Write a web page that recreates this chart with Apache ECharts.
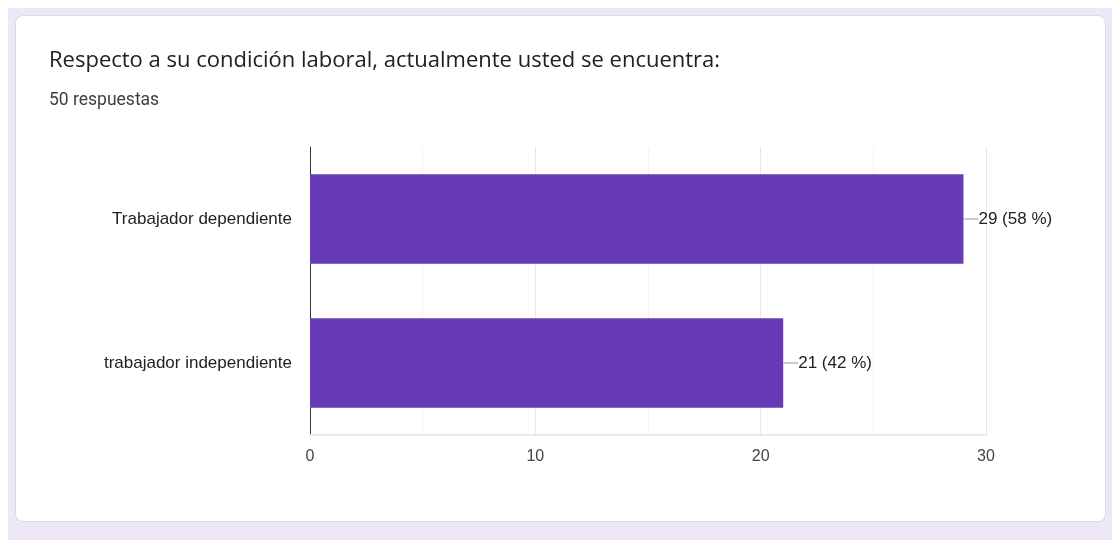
<!DOCTYPE html>
<html>
<head>
<meta charset="utf-8">
<script src="https://cdn.jsdelivr.net/npm/echarts@6/dist/echarts.min.js"></script>
<style>
  html, body { margin: 0; padding: 0; background: #ffffff; }
  #page { position: absolute; left: 8px; top: 8px; width: 1104px; height: 532px; background: #ede7f6; }
  #card { position: absolute; left: 15px; top: 15px; width: 1091px; height: 507px; background: #ffffff;
          border: 1px solid #dadce0; border-radius: 8px; box-sizing: border-box; }
  #chart { position: absolute; left: 0; top: 0; width: 1112px; height: 541px; }
</style>
</head>
<body>
<div id="page"></div>
<div id="card"></div>
<div id="chart"></div>
<script>
// Survey question, answers and counts
const questionTitle = 'Respecto a su condición laboral, actualmente usted se encuentra:';
const responseNote = '50 respuestas';
const categories = ['Trabajador dependiente', 'trabajador independiente'];
const counts = [29, 21];
const percents = [58, 42];
const axisTicks = [0, 10, 20, 30];

const chart = echarts.init(document.getElementById('chart'), null, { renderer: 'canvas' });

chart.setOption({
  animation: false,
  title: [
    {
      text: questionTitle,
      left: 49, top: 50, padding: 0,
      textStyle: { fontFamily: 'Open Sans', fontSize: 22, fontWeight: 'normal', color: '#202124' }
    },
    {
      text: responseNote,
      left: 49, top: 92, padding: 0,
      textStyle: { fontFamily: 'Roboto', fontSize: 17.5, fontWeight: 'normal', color: '#3c4043' }
    }
  ],
  grid: { left: 310, right: 126, top: 147, bottom: 106, containLabel: false },
  xAxis: {
    type: 'value',
    min: axisTicks[0],
    max: axisTicks[axisTicks.length - 1],
    interval: axisTicks[1] - axisTicks[0],
    axisLine: { show: true, lineStyle: { color: '#ebebeb', width: 2 } },
    axisTick: { show: false },
    axisLabel: { margin: 14, color: '#444444', fontFamily: 'Liberation Sans', fontSize: 16 },
    splitLine: { show: true, lineStyle: { color: '#e8e8e8', width: 1 } },
    minorTick: { show: false, splitNumber: 2 },
    minorSplitLine: { show: true, lineStyle: { color: '#f3f3f3', width: 1 } }
  },
  yAxis: {
    type: 'category',
    data: categories,
    inverse: true,
    axisLine: { show: true, lineStyle: { color: '#333333', width: 1 } },
    axisTick: { show: false },
    axisLabel: { margin: 18, color: '#222222', fontFamily: 'Liberation Sans', fontSize: 17 },
    splitLine: { show: false }
  },
  series: [{
    type: 'bar',
    data: counts,
    barCategoryGap: '38%',
    itemStyle: { color: '#673ab7' },
    label: {
      show: true,
      position: 'right',
      distance: 0,
      formatter: (p) => '{ln|}{t|' + p.value + ' (' + percents[p.dataIndex] + ' %)}',
      rich: {
        ln: { width: 15, height: 1, backgroundColor: '#999999' },
        t: { color: '#222222', fontFamily: 'Liberation Sans', fontSize: 17 }
      }
    }
  }]
});
</script>
</body>
</html>
